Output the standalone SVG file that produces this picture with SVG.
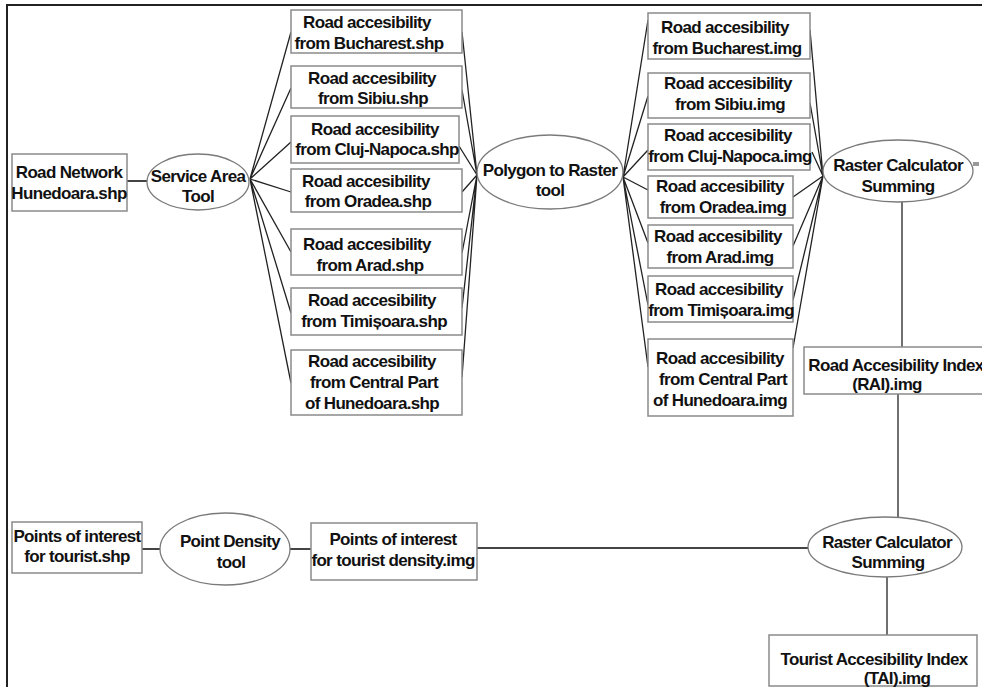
<svg xmlns="http://www.w3.org/2000/svg" width="982" height="687" viewBox="0 0 982 687">
<style>
.box{fill:#fff;stroke:#8a8a8a;stroke-width:1.5}
.ell{fill:#fff;stroke:#7a7a7a;stroke-width:1.3}
.t{font-family:"Liberation Sans",Arial,sans-serif;font-weight:bold;font-size:17px;letter-spacing:-0.65px;fill:#111;text-anchor:middle}
.c{stroke:#222;stroke-width:1.3;fill:none}
.c2{stroke:#444;stroke-width:2;fill:none}
.frame{stroke:#222;stroke-width:2;fill:none}
</style>
<rect width="982" height="687" fill="#fff"/>
<path class="frame" d="M7,687 V5 H982"/>
<g id="connectors">
<line class="c2" x1="127" y1="181" x2="148" y2="181"/>
<path class="c" d="M250,179 L291,32 M250,179 L291,88 M250,179 L291,142 M250,179 L291,192 M250,179 L291,252 M250,179 L291,313 M250,179 L291,383"/>
<path class="c" d="M477,175 L462,32 M477,175 L462,90 M477,175 L459,146 M477,175 L462,192 M477,175 L462,253 M477,175 L462,308 M477,175 L462,377"/>
<path class="c" d="M623,177 L648,20 M623,177 L648,96 M623,177 L648,150 M623,177 L648,190 M623,177 L648,243 M623,177 L648,305 M623,177 L648,367"/>
<path class="c" d="M823,176 L810,30 M823,176 L810,103 M823,176 L812,152 M823,176 L793,197 M823,176 L793,246 M823,176 L793,300 M823,176 L793,348"/>
<line class="c" x1="902" y1="202" x2="902" y2="347"/>
<line class="c" x1="898" y1="394" x2="898" y2="517"/>
<line class="c" x1="887" y1="577" x2="887" y2="635"/>
<line class="c2" x1="142" y1="549" x2="160" y2="549"/>
<line class="c2" x1="290" y1="549" x2="311" y2="549"/>
<line class="c2" x1="477" y1="548" x2="808" y2="548"/>
<line x1="973" y1="164" x2="979" y2="164" stroke="#999" stroke-width="4"/>
</g>
<g id="road-network"><rect class="box" x="12" y="154" width="115" height="57"/><text class="t" x="69" y="178">Road Network</text><text class="t" x="69" y="199">Hunedoara.shp</text></g>
<g id="service-area"><ellipse class="ell" cx="198" cy="182" rx="51" ry="28"/><text class="t" x="198" y="182">Service Area</text><text class="t" x="198" y="202">Tool</text></g>
<g id="shp-bucharest"><rect class="box" x="291" y="10" width="171" height="43"/><text class="t" x="367" y="28">Road accesibility</text><text class="t" x="369" y="49">from Bucharest.shp</text></g>
<g id="shp-sibiu"><rect class="box" x="291" y="66" width="171" height="42"/><text class="t" x="372" y="84">Road accesibility</text><text class="t" x="373" y="104">from Sibiu.shp</text></g>
<g id="shp-cluj"><rect class="box" x="291" y="116" width="168" height="47"/><text class="t" x="375" y="135">Road accesibility</text><text class="t" x="377" y="155">from Cluj-Napoca.shp</text></g>
<g id="shp-oradea"><rect class="box" x="291" y="169" width="171" height="43"/><text class="t" x="366" y="187">Road accesibility</text><text class="t" x="368" y="207">from Oradea.shp</text></g>
<g id="shp-arad"><rect class="box" x="291" y="229" width="171" height="46"/><text class="t" x="367" y="250">Road accesibility</text><text class="t" x="370" y="271">from Arad.shp</text></g>
<g id="shp-timisoara"><rect class="box" x="291" y="288" width="171" height="47"/><text class="t" x="372" y="306">Road accesibility</text><text class="t" x="374" y="327">from Timișoara.shp</text></g>
<g id="shp-central"><rect class="box" x="291" y="350" width="171" height="65"/><text class="t" x="372" y="367">Road accesibility</text><text class="t" x="374" y="388">from Central Part</text><text class="t" x="372" y="409">of Hunedoara.shp</text></g>
<g id="polygon-to-raster"><ellipse class="ell" cx="550" cy="172" rx="73" ry="37"/><text class="t" x="550" y="176">Polygon to Raster</text><text class="t" x="550" y="196">tool</text></g>
<g id="img-bucharest"><rect class="box" x="648" y="13" width="162" height="46"/><text class="t" x="725" y="33">Road accesibility</text><text class="t" x="727" y="54">from Bucharest.img</text></g>
<g id="img-sibiu"><rect class="box" x="648" y="73" width="162" height="45"/><text class="t" x="728" y="89">Road accesibility</text><text class="t" x="730" y="110">from Sibiu.img</text></g>
<g id="img-cluj"><rect class="box" x="648" y="124" width="162" height="46"/><text class="t" x="728" y="141">Road accesibility</text><text class="t" x="730" y="162">from Cluj-Napoca.img</text></g>
<g id="img-oradea"><rect class="box" x="648" y="176" width="145" height="42"/><text class="t" x="720" y="192">Road accesibility</text><text class="t" x="723" y="213">from Oradea.img</text></g>
<g id="img-arad"><rect class="box" x="648" y="225" width="145" height="43"/><text class="t" x="718" y="242">Road accesibility</text><text class="t" x="720" y="263">from Arad.img</text></g>
<g id="img-timisoara"><rect class="box" x="648" y="276" width="145" height="46"/><text class="t" x="719" y="295">Road accesibility</text><text class="t" x="721" y="316">from Timișoara.img</text></g>
<g id="img-central"><rect class="box" x="648" y="339" width="145" height="77"/><text class="t" x="720" y="364">Road accesibility</text><text class="t" x="723" y="385">from Central Part</text><text class="t" x="720" y="406">of Hunedoara.img</text></g>
<g id="raster-calc-1"><ellipse class="ell" cx="898" cy="171" rx="75" ry="31"/><text class="t" x="898" y="171">Raster Calculator</text><text class="t" x="898" y="192">Summing</text></g>
<g id="rai"><rect class="box" x="804" y="347" width="190" height="47"/><text class="t" x="896" y="371">Road Accesibility Index</text><text class="t" x="887" y="390">(RAI).img</text></g>
<g id="points-of-interest"><rect class="box" x="12" y="522" width="130" height="51"/><text class="t" x="77" y="542">Points of interest</text><text class="t" x="77" y="562">for tourist.shp</text></g>
<g id="point-density"><ellipse class="ell" cx="225" cy="549" rx="65" ry="36"/><text class="t" x="230" y="547">Point Density</text><text class="t" x="231" y="568">tool</text></g>
<g id="poi-density"><rect class="box" x="311" y="523" width="166" height="57"/><text class="t" x="393" y="545">Points of interest</text><text class="t" x="393" y="566">for tourist density.img</text></g>
<g id="raster-calc-2"><ellipse class="ell" cx="885" cy="547" rx="77" ry="30"/><text class="t" x="887" y="548">Raster Calculator</text><text class="t" x="888" y="568">Summing</text></g>
<g id="tai"><rect class="box" x="769" y="635" width="208" height="51"/><text class="t" x="874" y="665">Tourist Accesibility Index</text><text class="t" x="897" y="684">(TAI).img</text></g>
</svg>
